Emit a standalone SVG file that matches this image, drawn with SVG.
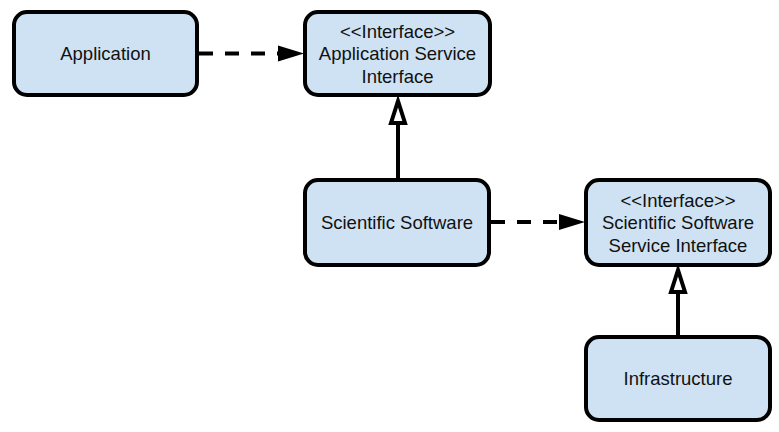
<svg xmlns="http://www.w3.org/2000/svg" width="779" height="432" viewBox="0 0 779 432">
<style>
.node rect{fill:#cfe2f3;stroke:#000;stroke-width:4}
text{font-family:"Liberation Sans",Arial,sans-serif;font-size:18.5px;fill:#111;text-anchor:middle}
.dash{stroke:#000;stroke-width:4;stroke-dasharray:14 12;fill:none}
.solid{stroke:#000;stroke-width:4;fill:none}
.head{fill:#000;stroke:none}
.hollow{fill:#fff;stroke:#000;stroke-width:4;stroke-linejoin:miter}
</style>
<rect width="779" height="432" fill="#fff"/>
<g id="connectors">
<line class="dash" x1="199" y1="53.5" x2="278" y2="53.5"/>
<polygon class="head" points="278,45.5 304,53.5 278,61.5"/>
<line class="solid" x1="398" y1="178" x2="398" y2="123"/>
<polygon class="hollow" points="398,101 391,123 405,123"/>
<line class="dash" x1="491" y1="222" x2="559" y2="222"/>
<polygon class="head" points="559,214 585,222 559,230"/>
<line class="solid" x1="678" y1="335" x2="678" y2="292"/>
<polygon class="hollow" points="678,270 671,292 685,292"/>
</g>
<g id="application" class="node">
<rect x="14" y="12" width="183" height="83" rx="13"/>
<text x="105.5" y="60">Application</text>
</g>
<g id="application-service-interface" class="node">
<rect x="305" y="12" width="185" height="83" rx="13"/>
<text x="397.5" y="37.5">&lt;&lt;Interface&gt;&gt;</text>
<text x="397.5" y="60">Application Service</text>
<text x="397.5" y="82.5">Interface</text>
</g>
<g id="scientific-software" class="node">
<rect x="305" y="180" width="184" height="85" rx="13"/>
<text x="397" y="229">Scientific Software</text>
</g>
<g id="scientific-software-service-interface" class="node">
<rect x="586" y="180" width="184" height="85" rx="13"/>
<text x="678" y="206.5">&lt;&lt;Interface&gt;&gt;</text>
<text x="678" y="229">Scientific Software</text>
<text x="678" y="251.5">Service Interface</text>
</g>
<g id="infrastructure" class="node">
<rect x="586" y="337" width="184" height="83" rx="13"/>
<text x="678" y="385">Infrastructure</text>
</g>
</svg>
